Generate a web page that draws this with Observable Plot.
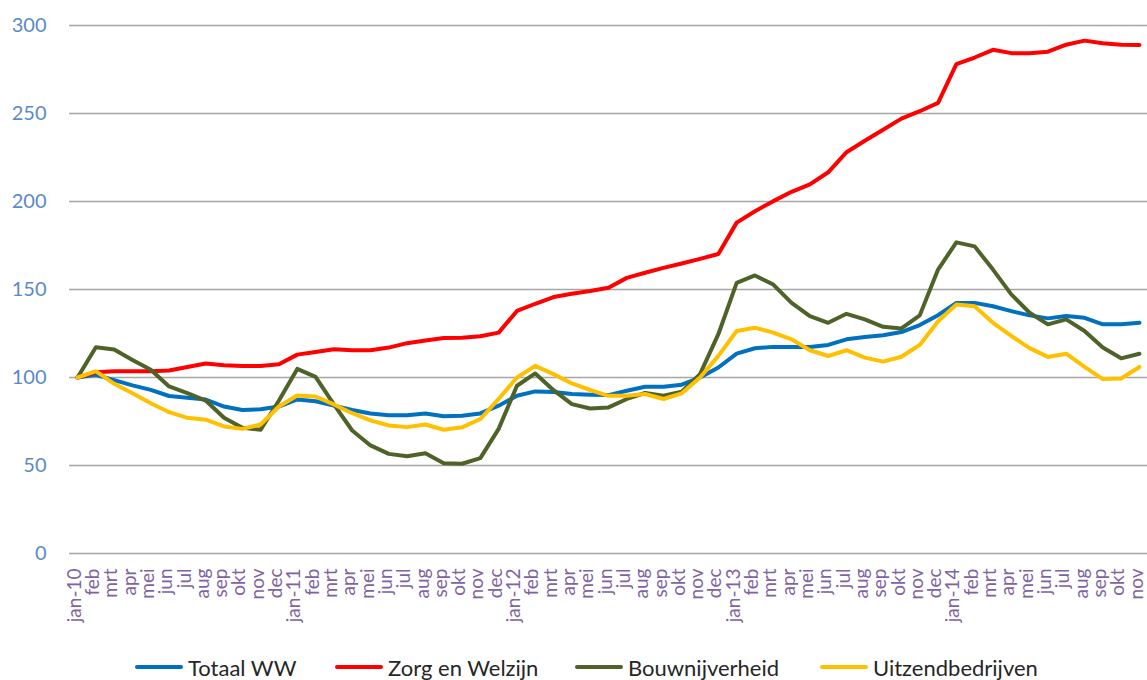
<!DOCTYPE html>
<html>
<head>
<meta charset="utf-8">
<script src="https://cdn.jsdelivr.net/npm/d3@7"></script>
<script src="https://cdn.jsdelivr.net/npm/@observablehq/plot@0.6"></script>
<style>
  html, body { margin: 0; padding: 0; background: #fff; }
  #wrap { position: relative; width: 1147px; height: 680px; font-family: Lato, "Open Sans", sans-serif; }
  #legend { position: absolute; top: 652px; left: 0; width: 1147px; height: 30px; }
  .item { position: absolute; top: 0; height: 30px; display: flex; align-items: center; font-size: 22px; color: #262626; white-space: nowrap; }
  .sw { width: 48px; height: 4px; border-radius: 2px; margin-right: 5px; }
</style>
</head>
<body>
<div id="wrap"><div id="chart"></div><div id="legend"></div></div>
<script>
const months = ["jan-10","feb","mrt","apr","mei","jun","jul","aug","sep","okt","nov","dec",
  "jan-11","feb","mrt","apr","mei","jun","jul","aug","sep","okt","nov","dec",
  "jan-12","feb","mrt","apr","mei","jun","jul","aug","sep","okt","nov","dec",
  "jan-13","feb","mrt","apr","mei","jun","jul","aug","sep","okt","nov","dec",
  "jan-14","feb","mrt","apr","mei","jun","jul","aug","sep","okt","nov"];

const seriesNames = ["Totaal WW", "Zorg en Welzijn", "Bouwnijverheid", "Uitzendbedrijven"];
const seriesColors = ["#0070c0", "#ff0000", "#4f6228", "#ffc000"];

const totaalWW = [100, 101.5, 98.5, 95.5, 93, 89.5, 88.5, 87.5, 83.5, 81.5, 82, 83.5,
  87.5, 86.5, 84, 81.5, 79.5, 78.5, 78.5, 79.5, 78, 78.3, 79.6, 84,
  89.6, 92.1, 91.7, 90.6, 90.2, 90, 92.5, 94.7, 94.7, 95.9, 100, 105.7,
  113.6, 116.6, 117.4, 117.3, 117.3, 118.5, 121.7, 123, 124, 125.8, 129.8, 135.4,
  142.4, 142.4, 140.5, 137.7, 135.3, 133.6, 134.9, 133.9, 130.2, 130.2, 131.1];

const zorgWelzijn = [100, 103, 103.5, 103.5, 103.5, 104, 106, 108, 107, 106.5, 106.5, 107.5,
  113, 114.5, 116, 115.5, 115.5, 117, 119.5, 121, 122.5, 122.6, 123.4, 125.5,
  137.8, 141.9, 145.7, 147.6, 149.1, 151, 156.6, 159.5, 162.3, 164.8, 167.4, 170.2,
  188, 194.5, 200.2, 205.5, 209.7, 216.6, 228, 234.5, 240.8, 247.1, 251.3, 256,
  278, 281.8, 286.2, 284.3, 284.3, 285.1, 289.1, 291.4, 289.9, 289.1, 288.9];

const bouwnijverheid = [100, 117.2, 115.9, 110, 104.4, 94.9, 91.1, 86.9, 77.1, 71.4, 70.3, 86.9,
  104.9, 100.4, 84.7, 69.9, 61.4, 56.6, 55.3, 57, 51.3, 51, 54.2, 70.8,
  95.3, 102.3, 92.8, 84.9, 82.4, 83, 87.8, 91.2, 89.6, 91.9, 101.9, 124.6,
  153.8, 158, 152.8, 142.4, 134.9, 131.1, 136.2, 133, 128.8, 127.9, 135.3, 161.3,
  176.8, 174.5, 161.3, 147.2, 136.8, 130.2, 133, 126.4, 117, 110.9, 113.5];

const uitzendbedrijven = [100, 103.6, 96.4, 91.1, 85.4, 80.3, 77.1, 76, 72.2, 70.8, 73.3, 83.5,
  89.8, 89.2, 84.7, 79.7, 75.6, 72.7, 71.8, 73.3, 70.3, 71.7, 76.4, 87.8,
  100, 106.6, 101.9, 96.6, 92.9, 89.6, 89.6, 90.6, 87.8, 91, 100, 112.3,
  126.4, 128.3, 125.5, 121.7, 115.5, 112.2, 115.5, 111.3, 109, 111.8, 118.5, 132,
  141.5, 140.5, 131.1, 123.6, 116.7, 111.7, 113.5, 106, 99.1, 99.4, 106];

const yTicks = [0, 50, 100, 150, 200, 250, 300];

const allSeries = [totaalWW, zorgWelzijn, bouwnijverheid, uitzendbedrijven];
const rows = allSeries.flatMap((vals, s) => vals.map((v, i) => ({i, v, s: seriesNames[s]})));

const plot = Plot.plot({
  width: 1147,
  height: 640,
  marginLeft: 69,
  marginRight: 0,
  marginTop: 25,
  marginBottom: 87,
  style: {fontFamily: "Lato, 'Open Sans', sans-serif", background: "#fff"},
  x: {type: "linear", domain: [-0.44, months.length - 1 + 0.44]},
  y: {domain: [0, 300]},
  color: {domain: seriesNames, range: seriesColors},
  marks: [
    Plot.ruleY(yTicks, {stroke: "#a6a6a6", strokeWidth: 1.5}),
    Plot.axisY({ticks: yTicks, tickSize: 0, tickPadding: 23, fontSize: 20, color: "#5a8ac6", label: null}),
    Plot.axisX({ticks: d3.range(months.length), tickFormat: i => months[i], tickRotate: -90,
      tickSize: 0, tickPadding: 15, dx: -3, fontSize: 19, color: "#8064a2", label: null}),
    Plot.lineY(rows, {x: "i", y: "v", z: "s", stroke: "s", strokeWidth: 4,
      strokeLinejoin: "round", strokeLinecap: "round"})
  ]
});
document.getElementById("chart").appendChild(plot);

const legendLeft = [135, 335, 575, 820];
const legend = document.getElementById("legend");
seriesNames.forEach((name, k) => {
  const item = document.createElement("div");
  item.className = "item";
  item.style.left = legendLeft[k] + "px";
  const sw = document.createElement("div");
  sw.className = "sw";
  sw.style.background = seriesColors[k];
  const t = document.createElement("span");
  t.textContent = name;
  item.appendChild(sw);
  item.appendChild(t);
  legend.appendChild(item);
});
</script>
</body>
</html>
